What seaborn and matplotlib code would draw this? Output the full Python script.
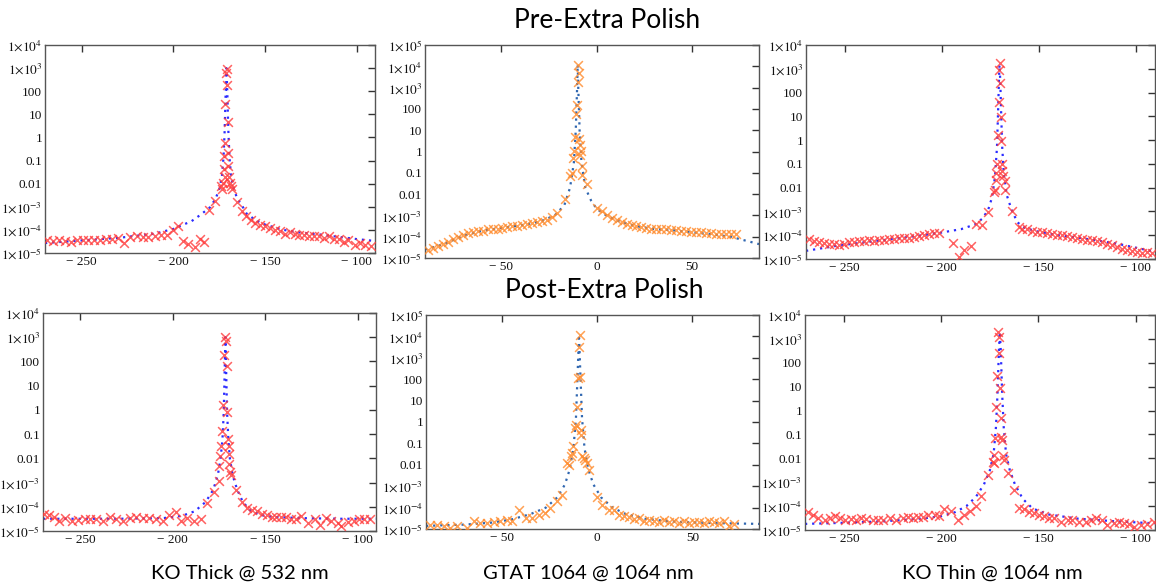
import matplotlib
matplotlib.use("Agg")
import matplotlib.pyplot as plt
import seaborn as sns
from matplotlib.ticker import FixedLocator, FixedFormatter, NullLocator

# ---------------- data ----------------
# Pre-Extra Polish, KO Thick @ 532 nm
pre_thick_x = [-268.8, -265.5, -262.3, -259.1, -255.9, -252.7, -249.5, -246.3, -243.0, -239.8, -236.6, -233.4,
               -230.0, -226.8, -223.6, -220.0, -216.8, -213.6, -210.0, -206.8, -203.6, -200.0, -197.3,
               -194.6, -192.0, -188.4, -185.7, -183.0, -180.4, -177.3,
               -173.8, -173.6, -172.9, -172.3, -172.0, -172.3, -172.0, -171.8, -170.9, -171.2, -170.5, -170.2,
               -170.2, -170.0, -169.6, -169.1, -168.8, -167.9,
               -165.5, -162.5, -160.2, -157.7, -155.4, -152.7, -150.0, -147.3, -144.6, -141.9, -139.3, -136.6,
               -133.9, -131.2, -128.6, -125.9, -123.2, -120.5, -117.9, -115.2, -112.5, -109.8, -107.0, -104.5,
               -101.0, -98.2, -95.5, -92.0]
pre_thick_y = [3.8e-5, 3.2e-5, 3.6e-5, 3.4e-5, 3.0e-5, 3.7e-5, 3.5e-5, 3.6e-5, 3.8e-5, 3.7e-5, 3.9e-5, 4.2e-5,
               4.5e-5, 2.7e-5, 4.8e-5, 5.3e-5, 5.0e-5, 4.8e-5, 5.2e-5, 5.8e-5, 6.0e-5, 1.0e-4, 1.5e-4,
               3.2e-5, 2.5e-5, 1.8e-5, 4.0e-5, 3.1e-5, 7.6e-4, 1.8e-3,
               7.9e-3, 5.6e-3, 1.1e-2, 4.2e-2, 2.0e-2, 0.15, 0.6, 28, 940, 600, 180, 4.5,
               0.22, 0.06, 0.02, 0.011, 8e-3, 6e-3,
               1.6e-3, 6.9e-4, 4.0e-4, 2.8e-4, 2.0e-4, 1.7e-4, 1.45e-4, 1.2e-4, 1.0e-4, 9.0e-5, 6.9e-5, 8.0e-5,
               6.8e-5, 6.2e-5, 6.2e-5, 5.3e-5, 5.5e-5, 5.2e-5, 4.5e-5, 5.2e-5, 4.0e-5, 4.2e-5, 2.9e-5, 3.6e-5,
               2.2e-5, 2.6e-5, 2.3e-5, 2.1e-5]
pre_thick_fit_x = [-270, -250, -230, -210, -200, -190, -185, -180, -177, -175, -173.5, -172.6, -172, -171.5,
                   -171, -170.5, -170, -169.4, -168.5, -167, -165, -162, -160, -155, -150, -140, -130, -120,
                   -110, -100, -90]
pre_thick_fit_y = [2.7e-5, 3.5e-5, 4.5e-5, 6.9e-5, 1.1e-4, 2.4e-4, 4.6e-4, 9.5e-4, 2.2e-3, 5.5e-3, 0.02, 0.15, 2,
                   60, 1000, 60, 2, 0.15, 0.02, 5.5e-3, 2.2e-3, 9.5e-4, 5e-4, 2.6e-4, 1.7e-4, 1e-4, 7.5e-5,
                   6.3e-5, 5e-5, 4e-5, 3.3e-5]

# Pre-Extra Polish, GTAT 1064 @ 1064 nm
pre_gtat_x = [-88.4, -85.8, -83.2, -80.6, -78.0, -75.4, -72.8, -70.2, -67.6, -65.0, -62.4, -59.8, -57.2, -54.6,
              -52.0, -49.4, -46.8, -44.2, -41.6, -39.0, -36.4, -33.8, -31.2, -28.6, -26.0, -23.4, -20.8,
              -16.5, -13.9, -13.0, -12.5, -12.1, -11.3, -10.9, -10.4, -10.0, -9.7, -9.4, -9.5, -9.0, -8.7,
              -8.3, -7.8, -7.5, -5.2,
              0.0, 2.6, 5.2, 7.8, 10.4, 13.0, 15.6, 18.2, 20.8, 23.4, 26.0, 28.6, 31.2, 33.8, 36.4, 39.0,
              41.6, 44.2, 46.8, 49.4, 52.0, 54.6, 57.2, 59.8, 62.4, 65.0, 67.6, 70.2, 72.8]
pre_gtat_y = [2.5e-5, 3.0e-5, 3.5e-5, 4.6e-5, 5.7e-5, 7.9e-5, 9.7e-5, 1.25e-4, 1.5e-4, 1.6e-4, 1.8e-4, 1.9e-4,
              2.2e-4, 2.3e-4, 2.4e-4, 2.7e-4, 2.9e-4, 3.1e-4, 3.3e-4, 3.7e-4, 4.1e-4, 4.4e-4, 4.9e-4, 5.7e-4,
              6.3e-4, 8.5e-4, 1.3e-3,
              6e-3, 0.07, 0.1, 0.5, 1.1, 5, 60, 160, 1800, 12000, 5000, 4, 2, 0.7,
              1.1, 0.2, 0.08, 0.03,
              2.3e-3, 1.6e-3, 1.1e-3, 7.6e-4, 5.9e-4, 4.8e-4, 4.1e-4, 3.7e-4, 3.3e-4, 2.9e-4, 2.6e-4, 2.4e-4,
              2.2e-4, 2.2e-4, 2.2e-4, 2.0e-4, 2.0e-4, 1.9e-4, 1.8e-4, 1.7e-4, 1.7e-4, 1.6e-4, 1.5e-4, 1.45e-4,
              1.4e-4, 1.35e-4, 1.4e-4, 1.3e-4, 1.3e-4]
pre_gtat_fit_x = [-90, -80, -70, -60, -50, -40, -30, -22, -17, -14, -12, -11, -10.3, -10, -9.7, -9, -8, -6,
                  -3, 0, 5, 10, 20, 30, 40, 50, 60, 70, 85]
pre_gtat_fit_y = [2.5e-5, 4.5e-5, 1.1e-4, 1.9e-4, 2.6e-4, 3.4e-4, 5e-4, 1e-3, 3e-3, 2e-2, 0.3, 10, 1e3, 1.2e4,
                  1e3, 10, 0.3, 2e-2, 5e-3, 2e-3, 1e-3, 6e-4, 3.2e-4, 2.3e-4, 2e-4, 1.6e-4, 1.3e-4, 1e-4, 4.5e-5]

# Pre-Extra Polish, KO Thin @ 1064 nm
pre_thin_x = [-268.3, -265.8, -263.2, -260.6, -258.0, -255.5, -252.9, -250.3, -247.8, -245.2, -242.6, -240.1,
              -237.5, -234.9, -232.4, -229.8, -227.2, -224.7, -222.1, -219.5, -217.0, -214.4, -211.8, -209.2,
              -206.7, -204.1, -201.5,
              -194.3, -190.9, -188.4, -184.9, -182.4, -179.0, -176.0,
              -172.9, -172.4, -172.1, -171.8, -171.4, -171.2, -170.7, -170.4, -170.0, -169.7, -169.5, -169.2,
              -168.7, -168.7, -168.2, -167.6, -167.3,
              -163.9, -160.4, -158.4, -155.8, -153.3, -150.7, -148.1, -145.5, -143.0, -140.4, -137.8, -135.3,
              -132.7, -130.1, -127.6, -125.0, -122.4, -119.9, -117.3, -114.7, -112.2, -109.6, -107.0, -104.5,
              -101.9, -99.3, -96.7, -94.2, -91.6]
pre_thin_y = [7.25e-5, 5.8e-5, 5.2e-5, 4.9e-5, 4.45e-5, 4.2e-5, 4.0e-5, 4.45e-5, 5.1e-5, 5.2e-5, 5.8e-5, 5.6e-5,
              6.2e-5, 5.8e-5, 6.2e-5, 6.6e-5, 6.8e-5, 7.25e-5, 7.5e-5, 7.7e-5, 8.0e-5, 8.5e-5, 9.1e-5, 1.0e-4,
              1.1e-4, 1.2e-4, 1.26e-4,
              4.8e-5, 1.2e-5, 2.3e-5, 3.4e-5, 2.9e-4, 2.6e-4, 9.5e-4,
              6.8e-3, 8e-3, 0.021, 0.04, 0.1, 1.6, 40, 880, 1800, 260, 9.0, 0.9,
              0.1, 0.05, 0.03, 0.02, 7.7e-3,
              1.0e-3, 2.3e-4, 1.9e-4, 1.75e-4, 1.5e-4, 1.4e-4, 1.35e-4, 1.2e-4, 1.1e-4, 1.04e-4, 1.0e-4, 9.4e-5,
              8.5e-5, 8.0e-5, 7.25e-5, 6.6e-5, 6.2e-5, 5.6e-5, 5.1e-5, 4.45e-5, 3.8e-5, 3.2e-5, 2.7e-5, 2.3e-5,
              2.2e-5, 2.0e-5, 1.8e-5, 2.0e-5, 1.8e-5]
pre_thin_fit_x = [-270, -255, -240, -225, -210, -200, -190, -183, -179, -176, -174, -172.5, -171.5, -171,
                  -170.5, -170.2, -169.8, -169.3, -168.8, -168, -166.5, -164, -161, -157, -150, -140, -130,
                  -120, -110, -100, -90]
pre_thin_fit_y = [2.2e-5, 3.5e-5, 5e-5, 7e-5, 1e-4, 1.3e-4, 1.8e-4, 2.8e-4, 5e-4, 1.2e-3, 4e-3, 0.03, 0.5, 10,
                  300, 1.5e3, 300, 10, 0.5, 0.04, 5e-3, 1.2e-3, 3.5e-4, 2e-4, 1.4e-4, 1e-4, 8e-5, 6e-5, 4.5e-5,
                  3e-5, 2e-5]

# Post-Extra Polish, KO Thick @ 532 nm
post_thick_x = [-269.6, -267.0, -264.3, -261.6, -258.0, -254.5, -250.9, -247.3, -244.6, -241.1, -237.5, -233.9,
                -230.4, -226.8, -223.2, -219.6, -216.1, -212.5, -208.9, -205.4, -201.8, -198.2, -195.5, -192.0,
                -188.4, -184.8, -181.3, -177.7,
                -175.0, -174.6, -174.1, -173.6, -173.2, -172.9, -172.3, -171.4, -170.9, -170.7, -170.4, -170.0,
                -169.6, -169.6, -169.3, -168.9, -168.6,
                -165.7, -162.5, -159.8, -157.1, -154.5, -151.8, -149.1, -146.4, -143.8, -141.1, -138.4, -135.7,
                -133.0, -130.4, -126.8, -123.2, -120.5, -117.0, -114.3, -110.7, -108.9, -105.4, -101.8, -99.1,
                -96.4, -93.2]
post_thick_y = [5.15e-5, 4.4e-5, 3.8e-5, 2.7e-5, 3.4e-5, 2.7e-5, 2.9e-5, 3.2e-5, 3.0e-5, 3.0e-5, 2.5e-5, 3.8e-5,
                3.2e-5, 2.7e-5, 3.4e-5, 3.8e-5, 3.5e-5, 3.4e-5, 3.0e-5, 2.7e-5, 4.7e-5, 6.0e-5, 2.7e-5, 3.4e-5,
                2.7e-5, 3.0e-5, 1.46e-4, 4.0e-4,
                1.2e-3, 5.0e-3, 0.013, 0.033, 0.137, 1.56, 177, 1030, 690, 64, 0.83, 0.062,
                0.033, 0.015, 5.8e-3, 2.7e-3, 2.1e-3,
                5.0e-4, 1.56e-4, 8.8e-5, 7.1e-5, 6.4e-5, 5.15e-5, 4.4e-5, 3.8e-5, 3.8e-5, 3.8e-5, 3.65e-5, 3.2e-5,
                3.0e-5, 4.1e-5, 2.2e-5, 3.2e-5, 1.8e-5, 3.4e-5, 2.5e-5, 2.2e-5, 1.6e-5, 2.35e-5, 2.5e-5, 3.0e-5,
                3.2e-5, 3.0e-5]
post_thick_fit_x = [-270, -230, -205, -195, -188, -182, -178, -175.5, -174, -173, -172.3, -171.8, -171.4, -171,
                    -170.5, -169.8, -169, -167.5, -165, -162, -158, -152, -145, -130, -110, -90]
post_thick_fit_y = [3.2e-5, 3.2e-5, 3.4e-5, 4.2e-5, 6.5e-5, 1.6e-4, 5e-4, 2e-3, 0.01, 0.06, 0.8, 40, 1e3, 40,
                    0.8, 0.06, 0.01, 2e-3, 5e-4, 1.6e-4, 7e-5, 4.5e-5, 3.8e-5, 3.4e-5, 3.2e-5, 3.2e-5]

# Post-Extra Polish, GTAT 1064 @ 1064 nm
post_gtat_x = [-87.7, -84.2, -80.7, -77.2, -73.7, -68.4, -64.9, -61.4, -57.9, -54.4, -50.9, -47.4, -44.7, -41.2,
               -37.7, -34.2, -30.7, -27.2, -24.6, -21.1, -18.4,
               -15.8, -14.9, -14.0, -13.2, -12.6, -11.9, -11.4, -10.5, -10.0, -9.6, -9.3, -9.1, -8.8, -8.4,
               -7.9, -7.0, -6.5, -5.6, -4.4,
               0.0, 2.6, 6.1, 8.8, 11.4, 14.0, 16.7, 19.3, 21.9, 24.6, 27.2, 29.8, 32.5, 35.1, 37.7, 40.4, 43.0,
               45.6, 48.2, 50.9, 53.5, 56.1, 58.8, 61.4, 64.0, 66.7, 69.3, 71.9]
post_gtat_y = [1.6e-5, 1.6e-5, 1.33e-5, 1.1e-5, 1.33e-5, 1.1e-5, 2.3e-5, 1.9e-5, 1.9e-5, 2.05e-5, 2.3e-5, 2.7e-5,
               2.3e-5, 7.4e-5, 3.3e-5, 3.3e-5, 4.7e-5, 5.6e-5, 9.5e-5, 1.95e-4, 4.0e-4,
               0.012, 0.010, 0.0245, 0.035, 0.072, 0.5, 0.74, 4.9, 111, 3300, 11700, 133, 0.43, 0.25,
               0.0245, 0.0205, 0.017, 0.012, 5.9e-3,
               3.3e-4, 1.36e-4, 8.0e-5, 7.4e-5, 4.7e-5, 3.9e-5, 3.6e-5, 2.9e-5, 3.3e-5, 2.3e-5, 2.7e-5, 2.3e-5,
               2.05e-5, 2.5e-5, 2.05e-5, 2.3e-5, 1.9e-5, 2.3e-5, 1.9e-5, 2.05e-5, 2.05e-5, 1.9e-5, 2.3e-5,
               2.05e-5, 1.9e-5, 2.3e-5, 1.43e-5, 1.77e-5]
post_gtat_fit_x = [-90, -70, -55, -45, -35, -27, -21, -17, -14.5, -12.5, -11.2, -10.3, -9.6, -8.9, -8, -6.7,
                   -4.7, -2, 2, 8, 15, 25, 40, 60, 90]
post_gtat_fit_y = [1.4e-5, 1.6e-5, 2e-5, 2.8e-5, 5e-5, 1e-4, 3e-4, 1.2e-3, 6e-3, 0.06, 1.5, 200, 1.2e4, 200, 1.5,
                   0.06, 6e-3, 1.2e-3, 3e-4, 1e-4, 5e-5, 3e-5, 2.2e-5, 1.9e-5, 1.7e-5]

# Post-Extra Polish, KO Thin @ 1064 nm
post_thin_x = [-268.4, -265.8, -263.2, -259.8, -257.3, -254.7, -252.1, -249.6, -246.2, -243.6, -241.0, -238.5,
               -235.0, -232.5, -229.9, -226.5, -223.1, -219.7, -217.1, -214.5, -212.0, -209.4, -206.8, -203.4,
               -200.9, -198.3, -194.9, -191.5, -188.0, -185.0, -182.1, -179.5, -176.1,
               -173.5, -173.0, -172.6, -172.1, -171.8, -171.3, -170.6, -170.4, -170.1, -169.6, -169.4, -169.2,
               -168.9, -168.4, -167.9,
               -165.8, -162.7, -159.8, -157.3, -154.7, -152.1, -149.6, -147.0, -144.4, -141.9, -138.5, -135.0,
               -132.5, -129.1, -125.6, -123.1, -120.5, -117.1, -114.5, -111.1, -108.5, -106.0, -103.4, -100.9,
               -97.4, -94.0, -90.6]
post_thin_y = [5.9e-5, 4.3e-5, 3.1e-5, 2.65e-5, 3.1e-5, 3.8e-5, 3.1e-5, 2.65e-5, 2.8e-5, 2.5e-5, 3.1e-5, 2.8e-5,
               2.65e-5, 2.65e-5, 2.5e-5, 3.1e-5, 2.65e-5, 3.1e-5, 3.4e-5, 3.1e-5, 3.65e-5, 3.65e-5, 4.3e-5,
               4.3e-5, 3.8e-5, 7.4e-5, 6.5e-5, 2.65e-5, 4.3e-5, 6.5e-5, 1.0e-4, 2.7e-4, 2.0e-3,
               7.3e-3, 6.2e-3, 0.014, 0.069, 1.46, 28, 2000, 1240, 249, 8.5, 0.47, 0.081,
               0.059, 0.012, 8.6e-3,
               2.4e-3, 4.8e-4, 8.1e-5, 7.4e-5, 5.9e-5, 5.0e-5, 4.3e-5, 3.8e-5, 3.1e-5, 3.1e-5, 2.25e-5, 2.5e-5,
               2.65e-5, 2.25e-5, 2.25e-5, 2.65e-5, 3.1e-5, 2.5e-5, 1.63e-5, 2.05e-5, 2.25e-5, 2.05e-5, 1.8e-5,
               1.4e-5, 1.63e-5, 1.8e-5, 2.25e-5]
post_thin_fit_x = [-270, -250, -230, -210, -200, -193, -187, -182, -178, -175, -173, -171.8, -171, -170.3,
                   -169.8, -169.3, -168.6, -167.8, -166.6, -164.6, -162, -158, -153, -145, -130, -110, -90]
post_thin_fit_y = [1.8e-5, 2e-5, 2.3e-5, 3e-5, 3.8e-5, 5.5e-5, 1e-4, 2.5e-4, 8e-4, 3e-3, 0.015, 0.2, 5, 300,
                   2e3, 300, 5, 0.2, 0.015, 3e-3, 8e-4, 2e-4, 8e-5, 4.5e-5, 3e-5, 2.3e-5, 1.9e-5]

# ticks / labels
ytick_vals = [1e-5, 1e-4, 1e-3, 1e-2, 1e-1, 1, 10, 100, 1e3, 1e4, 1e5]
ytick_text = [r"$1{\times}10^{-5}$", r"$1{\times}10^{-4}$", r"$1{\times}10^{-3}$", "0.01", "0.1", "1", "10",
              "100", r"$1{\times}10^{3}$", r"$1{\times}10^{4}$", r"$1{\times}10^{5}$"]
ko_xticks = [-250, -200, -150, -100]
ko_xtick_text = ["\u2212 250", "\u2212 200", "\u2212 150", "\u2212 100"]
gtat_xticks = [-50, 0, 50]
gtat_xtick_text = ["\u2212 50", "0", "50"]

row_titles = ["Pre-Extra Polish", "Post-Extra Polish"]
col_labels = ["KO Thick @ 532 nm", "GTAT 1064 @ 1064 nm", "KO Thin @ 1064 nm"]

# ---------------- style ----------------
sns.set_theme(style="white")
plt.rcParams["font.family"] = ["Liberation Serif", "DejaVu Serif"]
plt.rcParams["mathtext.fontset"] = "stix"

W, H = 1156, 584
fig = plt.figure(figsize=(W / 100, H / 100), dpi=100)
fig.patch.set_facecolor("white")


def rect(left, top, right, bottom):
    return [left / W, 1 - bottom / H, (right - left) / W, (bottom - top) / H]


RED = "#ff3b3b"
ORANGE = "#ff8a2a"
BLUE = "#2b2bff"
STEEL = "#2f66b0"

panels = [
    (rect(45, 45, 375, 253), pre_thick_x, pre_thick_y, pre_thick_fit_x, pre_thick_fit_y, RED, BLUE, "ko", 1e4),
    (rect(425, 45, 759, 258), pre_gtat_x, pre_gtat_y, pre_gtat_fit_x, pre_gtat_fit_y, ORANGE, STEEL, "gtat", 1e5),
    (rect(806, 45, 1155, 259), pre_thin_x, pre_thin_y, pre_thin_fit_x, pre_thin_fit_y, RED, BLUE, "ko", 1e4),
    (rect(43, 313, 376, 531), post_thick_x, post_thick_y, post_thick_fit_x, post_thick_fit_y, RED, BLUE, "ko", 1e4),
    (rect(426, 315, 759, 529), post_gtat_x, post_gtat_y, post_gtat_fit_x, post_gtat_fit_y, ORANGE, STEEL, "gtat", 1e5),
    (rect(805, 315, 1155, 530), post_thin_x, post_thin_y, post_thin_fit_x, post_thin_fit_y, RED, BLUE, "ko", 1e4),
]

for r, xs, ys, fx, fy, mcol, lcol, kind, ytop in panels:
    ax = fig.add_axes(r)
    ax.set_facecolor("white")
    ax.set_yscale("log")
    sns.lineplot(x=fx, y=fy, ax=ax, color=lcol, linewidth=1.6, linestyle=(0, (1, 2.2)),
                 estimator=None, sort=False, zorder=2)
    sns.scatterplot(x=xs, y=ys, ax=ax, marker="x", color=mcol, s=40, linewidth=1.1, alpha=0.8, zorder=3)
    if kind == "ko":
        ax.set_xlim(-270, -90)
        ax.xaxis.set_major_locator(FixedLocator(ko_xticks))
        ax.xaxis.set_major_formatter(FixedFormatter(ko_xtick_text))
    else:
        ax.set_xlim(-90, 85)
        ax.xaxis.set_major_locator(FixedLocator(gtat_xticks))
        ax.xaxis.set_major_formatter(FixedFormatter(gtat_xtick_text))
    ax.set_ylim(1e-5, ytop)
    n = ytick_vals.index(ytop) + 1
    ax.yaxis.set_major_locator(FixedLocator(ytick_vals[:n]))
    ax.yaxis.set_major_formatter(FixedFormatter(ytick_text[:n]))
    ax.yaxis.set_minor_locator(NullLocator())
    ax.xaxis.set_minor_locator(NullLocator())
    ax.tick_params(axis="both", which="major", direction="in", length=5, width=1, color="#333333",
                   top=True, right=True, labelsize=9.5, pad=2, labelcolor="#111111")
    for s in ax.spines.values():
        s.set_linewidth(1.0)
        s.set_color("#555555")
        s.set_visible(True)
    ax.set_xlabel("")
    ax.set_ylabel("")
    ax.grid(False)

fig.text(607 / W, 1 - 21 / H, row_titles[0], ha="center", va="center", fontsize=19, family="Lato", color="#000000")
fig.text(604 / W, 1 - 291 / H, row_titles[1], ha="center", va="center", fontsize=19, family="Lato", color="#000000")
for cx, lab in zip([240, 588, 992], col_labels):
    fig.text(cx / W, 1 - 573 / H, lab, ha="center", va="center", fontsize=14.5, family="Lato", color="#000000")

fig.savefig("out.png", dpi=100, facecolor="white")
